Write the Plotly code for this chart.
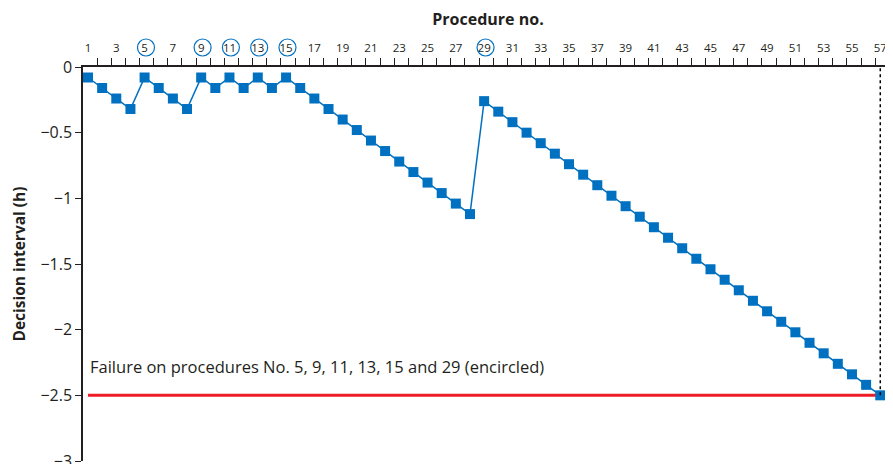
import plotly.graph_objects as go

procedures = list(range(1, 58))
decision = [
    -0.08, -0.16, -0.24, -0.32, -0.08, -0.16, -0.24, -0.32, -0.08, -0.16,
    -0.08, -0.16, -0.08, -0.16, -0.08, -0.16, -0.24, -0.32, -0.40, -0.48,
    -0.56, -0.64, -0.72, -0.80, -0.88, -0.96, -1.04, -1.12, -0.26, -0.34,
    -0.42, -0.50, -0.58, -0.66, -0.74, -0.82, -0.90, -0.98, -1.06, -1.14,
    -1.22, -1.30, -1.38, -1.46, -1.54, -1.62, -1.70, -1.78, -1.86, -1.94,
    -2.02, -2.10, -2.18, -2.26, -2.34, -2.42, -2.50,
]
failures = [5, 9, 11, 13, 15, 29]
threshold = -2.5
x_labels = list(range(1, 58, 2))
y_ticks = [0, -0.5, -1, -1.5, -2, -2.5, -3]
y_labels = ["0", "\u22120.5", "\u22121", "\u22121.5", "\u22122", "\u22122.5", "\u22123"]
annotation_text = "Failure on procedures No. 5, 9, 11, 13, 15 and 29 (encircled)"

BLUE = "#0070C0"
INK = "#231F20"
FONT = "Open Sans"
XRANGE = [0.647, 57.9]

fig = go.Figure()
fig.add_trace(go.Scatter(
    x=procedures, y=decision, mode="lines+markers",
    line=dict(color=BLUE, width=1.5),
    marker=dict(symbol="square", size=10, color=BLUE),
    showlegend=False, hoverinfo="skip",
))
# invisible trace to carry the tick-mark axis
fig.add_trace(go.Scatter(x=[procedures[0]], y=[decision[0]], xaxis="x2", mode="markers",
                         marker=dict(opacity=0), showlegend=False, hoverinfo="skip"))

shapes = [
    dict(type="line", xref="x", yref="y", x0=1, x1=57.9, y0=threshold, y1=threshold,
         line=dict(color="#EE1C25", width=3), layer="below"),
    dict(type="line", xref="x", yref="y", x0=procedures[-1], x1=procedures[-1],
         y0=decision[-1], y1=0, line=dict(color="black", width=1.5, dash="dot"), layer="above"),
]
for f in failures:
    shapes.append(dict(type="circle", xref="x", yref="paper", xsizemode="pixel",
                       ysizemode="pixel", xanchor=f + 0.1, yanchor=1,
                       x0=-8.5, x1=8.5, y0=11, y1=28,
                       line=dict(color=BLUE, width=1.2)))

fig.update_layout(
    width=885, height=456,
    margin=dict(l=75, r=0, t=58.5, b=3),
    paper_bgcolor="white", plot_bgcolor="white",
    font=dict(family=FONT, color=INK),
    shapes=shapes,
    annotations=[dict(text=annotation_text, xref="x", yref="y", x=0.98, y=-2.28,
                      xanchor="left", yanchor="middle", showarrow=False,
                      font=dict(size=16.5, family=FONT, color=INK))],
    xaxis=dict(
        side="top", range=XRANGE, automargin=False,
        tickvals=x_labels, ticktext=[str(v) for v in x_labels],
        tickfont=dict(size=11.5, family=FONT, color=INK),
        ticks="outside", ticklen=9, tickcolor="rgba(0,0,0,0)",
        showline=True, linecolor=INK, linewidth=1.5,
        showgrid=False, zeroline=False,
        title=dict(text="<b>Procedure no.</b>", font=dict(size=16, family=FONT, color=INK),
                   standoff=10),
    ),
    xaxis2=dict(
        side="top", overlaying="x", range=XRANGE, automargin=False,
        tickvals=[k + 0.64 for k in range(1, 57)], showticklabels=False,
        ticks="outside", ticklen=8, tickcolor=INK, tickwidth=1,
        showline=False, showgrid=False, zeroline=False,
    ),
    yaxis=dict(
        range=[-3, 0], tickvals=y_ticks, ticktext=y_labels, automargin=False,
        ticklabeloverflow="allow",
        tickfont=dict(size=16, family=FONT, color=INK),
        ticks="outside", ticklen=6, tickcolor=INK, tickwidth=1,
        showline=True, linecolor=INK, linewidth=1.5,
        showgrid=False, zeroline=False,
        title=dict(text="<b>Decision interval (h)</b>", font=dict(size=15.5, family=FONT, color=INK),
                   standoff=12),
    ),
)

fig.write_html("out.html")
